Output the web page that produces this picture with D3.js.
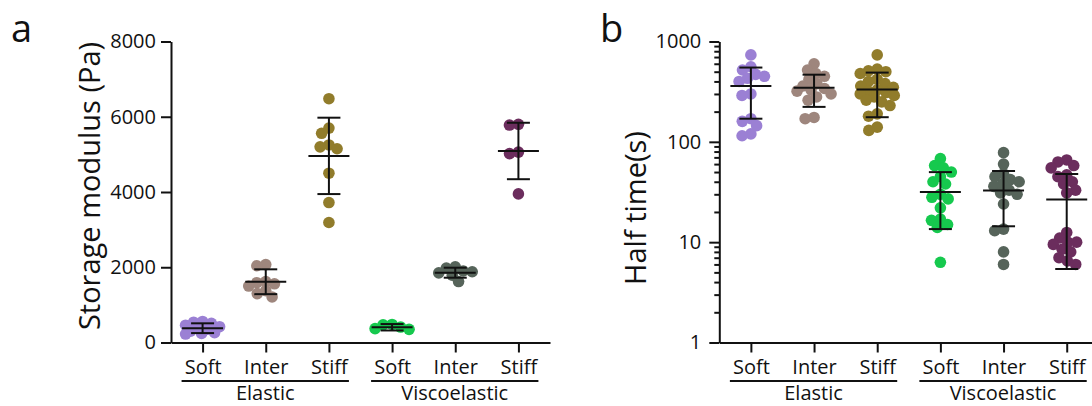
<!DOCTYPE html>
<html>
<head>
<meta charset="utf-8">
<script src="https://cdn.jsdelivr.net/npm/d3@7"></script>
<style>
    body { margin: 0; background: #fff; }
    svg { display: block; }
    text { font-family: "Open Sans", sans-serif; fill: #111; }
</style>
</head>
<body>
<script>
// categories and groups
var categories = ["Soft", "Inter", "Stiff", "Soft", "Inter", "Stiff"];
var groups = ["Elastic", "Viscoelastic"];
var colors = ["#9b80d4", "#9e867d", "#917c2b", "#16c94e", "#56645a", "#6b2d5d"];

// panel a - storage modulus (Pa)
var storageElasticSoft = [560, 540, 510, 460, 420, 380, 350, 300, 260, 240, 225];
var storageElasticInter = [2070, 2040, 1620, 1590, 1560, 1500, 1380, 1300, 1210];
var storageElasticStiff = [6480, 5700, 5560, 5250, 5200, 5150, 4500, 3720, 3190];
var storageViscoSoft = [480, 470, 410, 370, 350];
var storageViscoInter = [2010, 1980, 1900, 1880, 1850, 1790, 1620];
var storageViscoStiff = [5800, 5780, 5060, 5020, 3950];
var storageMean = [380, 1615, 4960, 405, 1855, 5090];
var storageSD = [130, 330, 1015, 85, 133, 750];
var storageTicks = [0, 2000, 4000, 6000, 8000];

// panel b - half time (s)
var halfElasticSoft = [735, 560, 520, 470, 450, 430, 400, 300, 290, 170, 160, 145, 120, 115];
var halfElasticInter = [600, 520, 480, 450, 420, 380, 360, 340, 330, 320, 300, 280, 260, 175, 170];
var halfElasticStiff = [735, 530, 510, 500, 480, 420, 400, 380, 360, 350, 330, 320, 310, 300, 290, 280, 260, 250, 230, 190, 180, 140, 130];
var halfViscoSoft = [68, 58, 55, 50, 45, 40, 38, 30, 28, 27, 22, 17, 16.5, 15, 14, 6.3];
var halfViscoInter = [78, 60, 48, 45, 42, 40, 38, 36, 33, 31, 30, 24, 13.5, 13, 8, 6];
var halfViscoStiff = [66, 63, 58, 55, 47, 45, 40, 38, 33, 31, 12.5, 11, 10, 10, 9.5, 8.5, 8, 7, 6.5, 6];
var halfMean = [360, 345, 333, 31.7, 32.8, 26.6];
var halfSD = [190, 122, 157, 18.2, 18.4, 21.2];
var halfTicks = [1, 10, 100, 1000];

var svg_width = 1092;
var svg_height = 406;
var top_y = 41.5, bottom_y = 342.5, axis_len = 379;
var dot_r = 5.8;
var max_spread = 17;

var svg = d3.select("body")
    .append("svg")
    .attr("width", svg_width)
    .attr("height", svg_height);

// simple beeswarm: put each dot as close to the centre as it can go,
// but never further than max_spread (then just pick the least crowded spot)
function swarm(values, y, cx, minDist) {
    var pts = values.map(function (v) { return {v: v, y: y(v)}; });
    pts.sort(function (a, b) { return a.y - b.y; });
    var placed = [];
    pts.forEach(function (p) {
        var near = placed.filter(function (q) { return Math.abs(q.y - p.y) < minDist; });
        var cands = [0];
        near.forEach(function (q) {
            var dx = Math.sqrt(minDist * minDist - (q.y - p.y) * (q.y - p.y));
            cands.push(q.dx - dx, q.dx + dx);
        });
        cands.sort(function (a, b) { return Math.abs(a) - Math.abs(b) || a - b; });
        var best = cands.find(function (c) {
            return near.every(function (q) {
                return Math.hypot(q.dx - c, q.y - p.y) >= minDist - 1e-6;
            });
        });
        if (Math.abs(best) > max_spread) {
            var bestGap = -1;
            for (var c = -max_spread; c <= max_spread; c += 1) {
                var gap = d3.min(near, function (q) { return Math.hypot(q.dx - c, q.y - p.y); });
                if (gap > bestGap + 0.01) { bestGap = gap; best = c; }
            }
        }
        p.dx = best;
        placed.push(p);
    });
    return pts.map(function (p) { return {v: p.v, x: cx + p.dx, y: p.y}; });
}

function drawPanel(opt) {
    var g = svg.append("g");
    var x = d3.scalePoint()
        .domain(d3.range(categories.length))
        .range([opt.x0, opt.x0 + axis_len])
        .padding(0.5);
    var y = opt.y;

    // x axis
    var xa = g.append("g")
        .attr("transform", "translate(0," + bottom_y + ")")
        .call(d3.axisBottom(x).tickSize(10).tickSizeOuter(0).tickPadding(7)
            .tickFormat(function (d) { return categories[d]; }));
    // y axis
    var ya = g.append("g")
        .attr("transform", "translate(" + opt.x0 + ",0)")
        .call(d3.axisLeft(y).tickValues(opt.ticks).tickSize(10).tickSizeOuter(0)
            .tickPadding(opt.pad).tickFormat(d3.format("d")));
    if (opt.minor) {
        g.append("g")
            .attr("transform", "translate(" + opt.x0 + ",0)")
            .call(d3.axisLeft(y).tickValues(opt.minor).tickSize(5).tickFormat(""))
            .call(function (s) { s.select(".domain").remove(); });
    }
    [xa, ya].forEach(function (a) {
        a.selectAll("path, line").attr("stroke", "#111").attr("stroke-width", 2);
        a.selectAll("text").attr("font-size", 20).attr("font-family", "Open Sans").attr("fill", "#111");
    });
    g.selectAll("g.tick line").attr("stroke", "#111").attr("stroke-width", 2);

    // group underlines and names
    [[0, 2], [3, 5]].forEach(function (r, i) {
        var a = x(r[0]) - 21, b = x(r[1]) + 20;
        g.append("line")
            .attr("x1", a).attr("x2", b)
            .attr("y1", 381).attr("y2", 381)
            .attr("stroke", "#111").attr("stroke-width", 2.2);
        g.append("text")
            .attr("x", (a + b) / 2).attr("y", 400)
            .attr("text-anchor", "middle")
            .attr("font-size", 20)
            .text(groups[i]);
    });

    // dots
    opt.data.forEach(function (vals, i) {
        g.append("g").selectAll("circle")
            .data(swarm(vals, y, x(i), 9))
            .enter()
            .append("circle")
            .attr("cx", function (d) { return d.x; })
            .attr("cy", function (d) { return d.y; })
            .attr("r", dot_r)
            .attr("fill", colors[i]);
    });

    // mean +- SD
    opt.mean.forEach(function (m, i) {
        var cx = x(i), hi = y(m + opt.sd[i]), lo = y(m - opt.sd[i]);
        var eb = g.append("g").attr("stroke", "#111").attr("stroke-width", 2);
        eb.append("line").attr("x1", cx).attr("x2", cx).attr("y1", hi).attr("y2", lo);
        eb.append("line").attr("x1", cx - 11.5).attr("x2", cx + 11.5).attr("y1", hi).attr("y2", hi);
        eb.append("line").attr("x1", cx - 11.5).attr("x2", cx + 11.5).attr("y1", lo).attr("y2", lo);
        eb.append("line").attr("x1", cx - 20.5).attr("x2", cx + 20.5).attr("y1", y(m)).attr("y2", y(m));
    });

    // titles
    g.append("text")
        .attr("transform", "translate(" + opt.titleX + "," + opt.titleY + ") rotate(-90)")
        .attr("text-anchor", "middle")
        .attr("font-size", 29)
        .text(opt.title);
    g.append("text")
        .attr("x", opt.letterX).attr("y", 42)
        .attr("font-size", 38)
        .text(opt.letter);
}

var yA = d3.scaleLinear().domain([0, 8000]).range([bottom_y, top_y]);
drawPanel({
    x0: 171, y: yA, ticks: storageTicks, pad: 5,
    data: [storageElasticSoft, storageElasticInter, storageElasticStiff,
        storageViscoSoft, storageViscoInter, storageViscoStiff],
    mean: storageMean, sd: storageSD,
    title: "Storage modulus (Pa)", titleX: 100, titleY: 186,
    letter: "a", letterX: 11
});

var yB = d3.scaleLog().domain([1, 1000]).range([bottom_y, top_y]);
var minorTicks = [];
[1, 10, 100].forEach(function (d) {
    for (var k = 2; k <= 9; k++) minorTicks.push(d * k);
});
drawPanel({
    x0: 719.3, y: yB, ticks: halfTicks, pad: 8, minor: minorTicks,
    data: [halfElasticSoft, halfElasticInter, halfElasticStiff,
        halfViscoSoft, halfViscoInter, halfViscoStiff],
    mean: halfMean, sd: halfSD,
    title: "Half time(s)", titleX: 646, titleY: 208,
    letter: "b", letterX: 600
});
</script>
</body>
</html>
